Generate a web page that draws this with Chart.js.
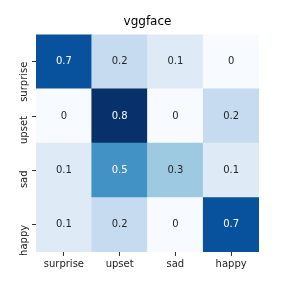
<!DOCTYPE html>
<html>
<head>
<meta charset="utf-8">
<script src="https://cdn.jsdelivr.net/npm/chart.js@4/dist/chart.umd.min.js"></script>
<style>
  html, body { margin: 0; padding: 0; background: #fff; }
  #wrap { width: 288px; height: 288px; }
</style>
</head>
<body>
<div id="wrap"><canvas id="chart1"></canvas></div>
<script>
// predicted labels (columns)
const categories = ['surprise', 'upset', 'sad', 'happy'];
// true labels (rows), top to bottom
const rowLabels = ['surprise', 'upset', 'sad', 'happy'];
const surpriseRow = [0.7, 0.2, 0.1, 0];
const upsetRow = [0, 0.8, 0, 0.2];
const sadRow = [0.1, 0.5, 0.3, 0.1];
const happyRow = [0.1, 0.2, 0, 0.7];
const vmax = 0.8;

const rows = [surpriseRow, upsetRow, sadRow, happyRow];

// matplotlib "Blues"
const blues = ['#f7fbff', '#deebf7', '#c6dbef', '#9ecae1', '#6baed6', '#4292c6', '#2171b5', '#08519c', '#08306b'];

function hexToRgb(h) {
    return [parseInt(h.slice(1, 3), 16), parseInt(h.slice(3, 5), 16), parseInt(h.slice(5, 7), 16)];
}

function blueColor(v) {
    let t = Math.max(0, Math.min(1, v / vmax)) * (blues.length - 1);
    let i = Math.min(Math.floor(t), blues.length - 2);
    let f = t - i;
    let a = hexToRgb(blues[i]), b = hexToRgb(blues[i + 1]);
    let c = a.map((x, k) => Math.round(x + (b[k] - x) * f));
    return 'rgb(' + c.join(',') + ')';
}

// stacked from the bottom, so the last row goes first
const datasets = rows.slice().reverse().map((row, i) => ({
    label: rowLabels[rows.length - 1 - i],
    data: categories.map(() => 1),
    values: row,
    backgroundColor: row.map(v => blueColor(v)),
    borderWidth: 0,
    barPercentage: 1,
    categoryPercentage: 1
}));

const cellText = {
    id: 'cellText',
    afterDatasetsDraw(chart) {
        const ctx = chart.ctx;
        ctx.save();
        ctx.font = '10px "DejaVu Sans"';
        ctx.textAlign = 'center';
        ctx.textBaseline = 'middle';
        chart.data.datasets.forEach((ds, di) => {
            chart.getDatasetMeta(di).data.forEach((bar, j) => {
                const v = ds.values[j];
                ctx.fillStyle = v / vmax > 0.5 ? '#ffffff' : '#262626';
                ctx.fillText(String(v), bar.x, (bar.y + bar.base) / 2);
            });
        });
        ctx.restore();
    }
};

const ctx1 = document.getElementById('chart1').getContext('2d');
new Chart(ctx1, {
    type: 'bar',
    data: { labels: categories, datasets: datasets },
    options: {
        responsive: true,
        maintainAspectRatio: false,
        animation: false,
        layout: { padding: { left: 7, right: 0, top: 0, bottom: 16 } },
        plugins: {
            legend: { display: false },
            tooltip: { enabled: false },
            title: {
                display: true,
                text: 'vggface',
                color: '#000',
                font: { family: 'DejaVu Sans', size: 12, weight: 'normal' },
                padding: { top: 15, bottom: 5 }
            }
        },
        scales: {
            x: {
                stacked: true,
                border: { display: false },
                grid: { offset: false, drawOnChartArea: false, drawTicks: true, tickLength: 4, tickColor: '#333' },
                ticks: { color: '#222', padding: 2, maxRotation: 0, font: { family: 'DejaVu Sans', size: 10 } }
            },
            y: {
                stacked: true,
                min: 0,
                max: 4,
                border: { display: false },
                afterFit: axis => { axis.width = 29; },
                afterBuildTicks: axis => { axis.ticks = [0.5, 1.5, 2.5, 3.5].map(v => ({ value: v })); },
                grid: { drawOnChartArea: false, drawTicks: true, tickLength: 4, tickColor: '#333' },
                ticks: {
                    color: '#222',
                    padding: 8,
                    minRotation: 90,
                    maxRotation: 90,
                    font: { family: 'DejaVu Sans', size: 10 },
                    callback: v => rowLabels[rowLabels.length - 1 - Math.floor(v)]
                }
            },
            // empty right margin
            y2: {
                position: 'right',
                display: true,
                border: { display: false },
                grid: { display: false },
                ticks: { display: false },
                afterFit: axis => { axis.width = 29; }
            }
        }
    },
    plugins: [cellText]
});
</script>
</body>
</html>
